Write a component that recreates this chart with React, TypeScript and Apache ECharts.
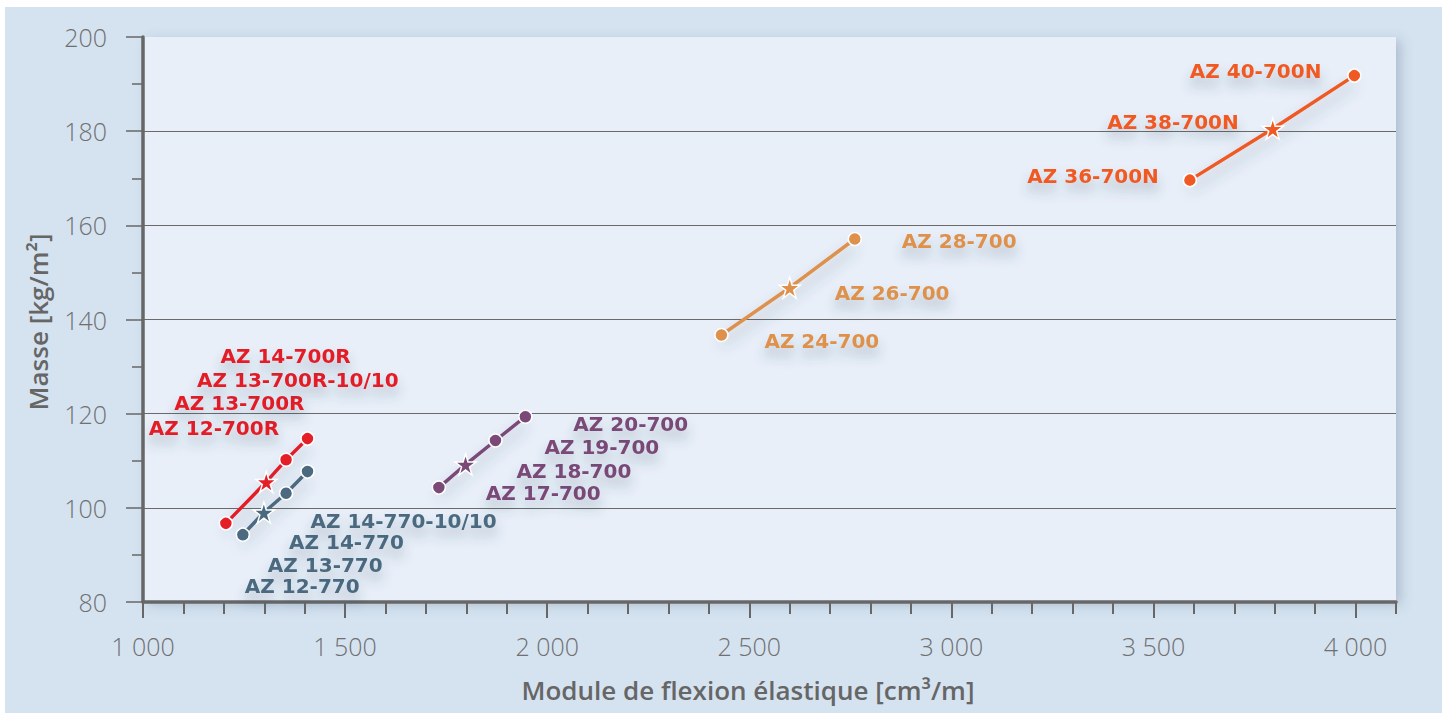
import React, { useEffect, useRef } from "react";
import * as echarts from "echarts";

// ---- tick values ----
const xMajorTicks = [1000, 1500, 2000, 2500, 3000, 3500, 4000];
const xMinorTicks = [
  1000, 1100, 1200, 1300, 1400, 1500, 1600, 1700, 1800, 1900, 2000, 2100, 2200, 2300, 2400,
  2500, 2600, 2700, 2800, 2900, 3000, 3100, 3200, 3300, 3400, 3500, 3600, 3700, 3800, 3900,
  4000, 4100,
];

// ---- data ----
const redNames = ["AZ 12-700R", "AZ 13-700R", "AZ 13-700R-10/10", "AZ 14-700R"];
const redX = [1205, 1305, 1354, 1407];
const redY = [96.7, 105.5, 110.2, 114.7];

const blueNames = ["AZ 12-770", "AZ 13-770", "AZ 14-770", "AZ 14-770-10/10"];
const blueX = [1247, 1299, 1354, 1407];
const blueY = [94.3, 99.0, 103.1, 107.7];

const purpleNames = ["AZ 17-700", "AZ 18-700", "AZ 19-700", "AZ 20-700"];
const purpleX = [1732, 1798, 1872, 1946];
const purpleY = [104.3, 109.2, 114.3, 119.35];

const orangeNames = ["AZ 24-700", "AZ 26-700", "AZ 28-700"];
const orangeX = [2431, 2600, 2761];
const orangeY = [136.7, 146.75, 157.1];

const nNames = ["AZ 36-700N", "AZ 38-700N", "AZ 40-700N"];
const nX = [3590, 3795, 3997];
const nY = [169.6, 180.5, 191.8];

const STAR_INDEX = 1;

// ---- label layout (pixel offsets from each point) ----
const redOffsets = [[-77, -95], [-92, -79], [-89, -80], [-87, -83]];
const blueOffsets = [[2, 51], [4, 52], [3, 49], [3, 49]];
const purpleOffsets = [[47, 5], [51, 6], [49, 6], [48, 7]];
const orangeOffsets = [[43, 6], [45, 5], [47, 2]];
const nOffsets = [[-31, -4], [-34, -7], [-33, -5]];

const STAR =
  "path://M50,0L61.2,34.5L97.6,34.5L68.2,55.9L79.4,90.5L50,69.1L20.6,90.5L31.8,55.9L2.4,34.5L38.8,34.5Z";

const fmtThousands = (v: number) => {
  const s = String(Math.round(v));
  return s.length > 3 ? s.slice(0, s.length - 3) + " " + s.slice(-3) : s;
};

function makeSeries(
  names: string[],
  xs: number[],
  ys: number[],
  color: string,
  offsets: number[][],
  align: "left" | "right"
) {
  return {
    type: "line",
    xAxisIndex: 0,
    yAxisIndex: 0,
    showSymbol: true,
    z: 5,
    lineStyle: {
      color,
      width: 3.5,
      shadowColor: "rgba(50,70,100,0.35)",
      shadowBlur: 14,
      shadowOffsetY: 9,
    },
    itemStyle: { color, borderColor: "#ffffff", borderWidth: 1.5 },
    label: {
      show: true,
      formatter: "{b}",
      position: "inside",
      align,
      verticalAlign: "middle",
      color,
      fontFamily: "DejaVu Sans",
      fontWeight: "bold",
      fontSize: 20,
      textShadowColor: "rgba(50,70,100,0.3)",
      textShadowBlur: 12,
      textShadowOffsetY: 9,
    },
    data: names.map((n, i) => ({
      name: n,
      value: [xs[i], ys[i]],
      symbol: i === STAR_INDEX ? STAR : "circle",
      symbolSize: i === STAR_INDEX ? 21 : 13,
      label: { offset: offsets[i] },
    })),
  };
}

export default function App() {
  const ref = useRef<HTMLDivElement>(null);

  useEffect(() => {
    document.body.style.margin = "0";
    if (!ref.current) return;
    const chart = echarts.init(ref.current, undefined, { renderer: "svg" });
    const axisGrey = "#676767";
    const tickFont = {
      fontFamily: "Open Sans",
      fontWeight: 300,
      fontSize: 25,
      color: "#707070",
    };
    chart.setOption({
      animation: false,
      backgroundColor: "#d5e3f0",
      grid: {
        left: 138,
        right: 46,
        top: 30,
        bottom: 111,
        show: true,
        backgroundColor: "#e8eff8",
        borderWidth: 0,
        shadowColor: "rgba(60,80,110,0.25)",
        shadowBlur: 12,
        shadowOffsetX: 5,
        shadowOffsetY: 3,
      },
      xAxis: [
        {
          type: "value",
          min: 1000,
          max: 4100,
          position: "bottom",
          axisLine: { show: true, lineStyle: { color: axisGrey, width: 3.5 } },
          axisTick: {
            show: true,
            customValues: xMajorTicks,
            length: 16,
            lineStyle: { color: axisGrey, width: 2 },
          },
          axisLabel: {
            customValues: xMajorTicks,
            formatter: (v: number) => fmtThousands(v),
            margin: 31,
            ...tickFont,
          },
          splitLine: { show: false },
        },
        {
          type: "value",
          min: 1000,
          max: 4100,
          position: "bottom",
          axisLine: { show: false },
          axisTick: {
            show: true,
            customValues: xMinorTicks,
            length: 12,
            lineStyle: { color: axisGrey, width: 2 },
          },
          axisLabel: { show: false },
          splitLine: { show: false },
        },
      ],
      yAxis: {
        type: "value",
        min: 80,
        max: 200,
        interval: 20,
        axisLine: { show: true, lineStyle: { color: axisGrey, width: 3.5 } },
        axisTick: { show: true, length: 17, lineStyle: { color: axisGrey, width: 1.5 } },
        minorTick: { show: true, splitNumber: 2, length: 11, lineStyle: { color: axisGrey, width: 1.5 } },
        axisLabel: { margin: 36, ...tickFont },
        splitLine: {
          show: true,
          showMinLine: false,
          showMaxLine: false,
          lineStyle: { color: "#6a6a6a", width: 1 },
        },
      },
      graphic: [
        {
          type: "text",
          x: 743,
          y: 683,
          style: {
            text: "Module de flexion élastique [cm³/m]",
            align: "center",
            verticalAlign: "middle",
            fontFamily: "Open Sans",
            fontWeight: 600,
            fontSize: 26,
            fill: "#666666",
          },
        },
        {
          type: "text",
          x: 33,
          y: 315,
          rotation: Math.PI / 2,
          style: {
            text: "Masse [kg/m²]",
            align: "center",
            verticalAlign: "middle",
            fontFamily: "Open Sans",
            fontWeight: 600,
            fontSize: 26,
            fill: "#666666",
          },
        },
      ],
      series: [
        makeSeries(redNames, redX, redY, "#e41f28", redOffsets, "left"),
        makeSeries(blueNames, blueX, blueY, "#4b6a7f", blueOffsets, "left"),
        makeSeries(purpleNames, purpleX, purpleY, "#7a4977", purpleOffsets, "left"),
        makeSeries(orangeNames, orangeX, orangeY, "#de914c", orangeOffsets, "left"),
        makeSeries(nNames, nX, nY, "#f05a22", nOffsets, "right"),
      ],
    });
    return () => chart.dispose();
  }, []);

  return (
    <div style={{ position: "relative", width: 1450, height: 713, background: "#ffffff" }}>
      <div
        ref={ref}
        style={{ position: "absolute", left: 5, top: 7, width: 1437, height: 706 }}
      />
    </div>
  );
}
